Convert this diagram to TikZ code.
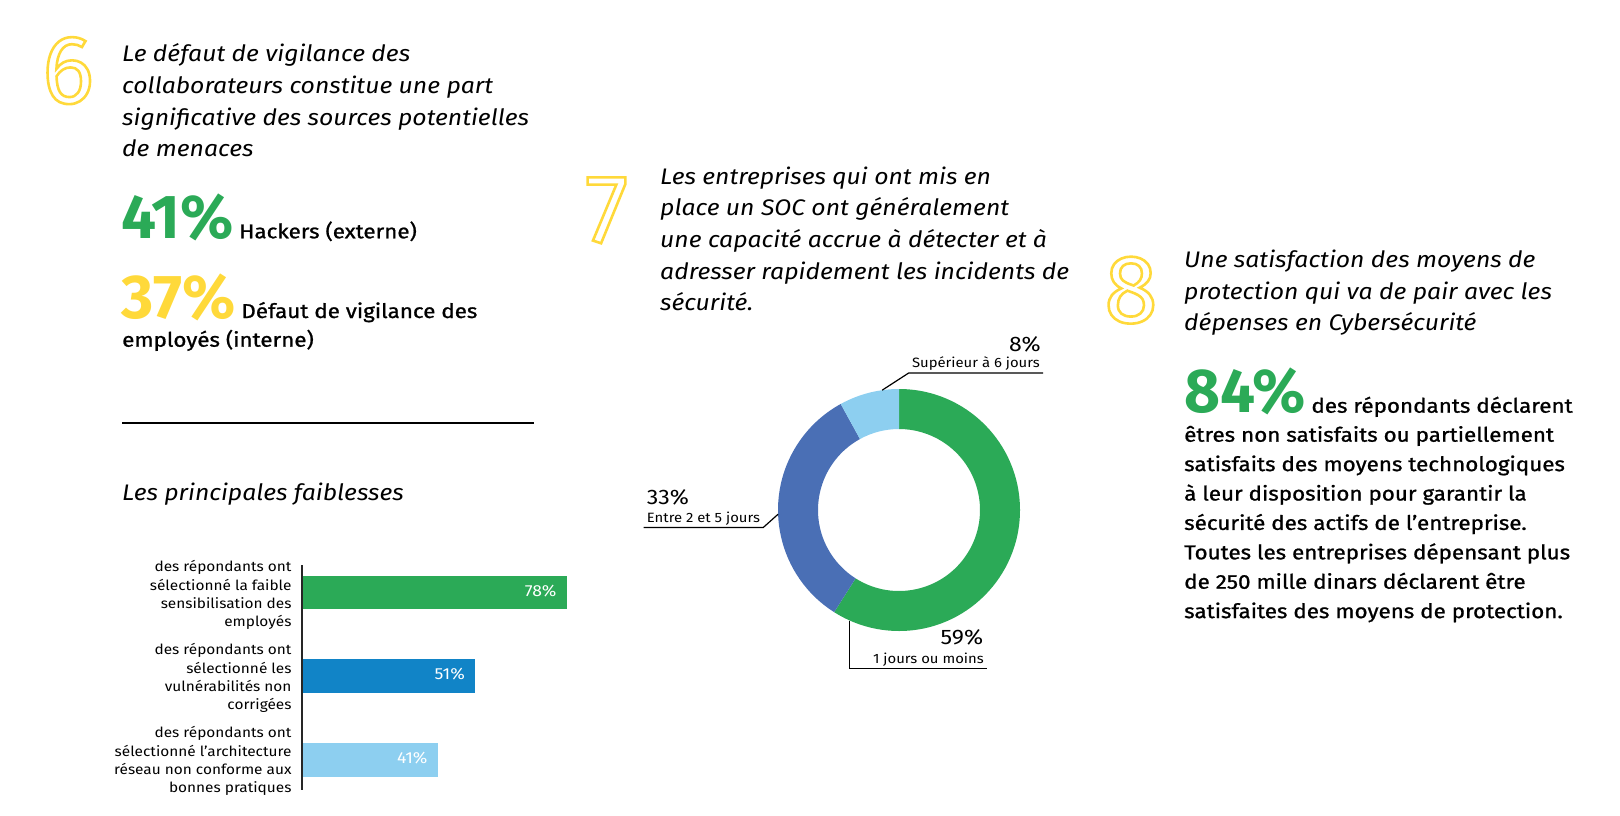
\documentclass[tikz,border=0pt]{standalone}
\usepackage{fontspec}
\setmainfont{Fira Sans}[FakeStretch=1.1]
\newfontfamily\medfont{Fira Sans}[FakeStretch=1.12, FakeBold=1]
\newfontfamily\numfont{Fira Sans}
\usepackage{tikz}
\usetikzlibrary{positioning}
\definecolor{eygreen}{RGB}{43,170,87}
\definecolor{eyyellow}{RGB}{255,217,58}
\definecolor{bblue}{RGB}{17,132,199}
\definecolor{blight}{RGB}{141,207,240}
\definecolor{dblue}{RGB}{74,111,181}
\newcommand\outl[1]{\special{pdf:literal direct 1 Tr 2.6 w}#1\special{pdf:literal direct 0 Tr}}

\begin{document}
\begin{tikzpicture}[x=1pt,y=-1pt,
    head/.style={font=\fontsize{22.5}{31}\selectfont\itshape, inner sep=0, anchor=base west},
    body/.style={font=\fontsize{20}{29}\medfont, inner sep=0, anchor=base west},
    bignum/.style={font=\fontsize{62}{62}\numfont\bfseries, inner sep=0, anchor=base west},
    secnum/.style={font=\fontsize{97}{97}\numfont, text=eyyellow, inner sep=0, anchor=base west},
    barlab/.style={font=\fontsize{14}{18}\selectfont, inner sep=0, anchor=base east},
    barval/.style={font=\fontsize{16}{18}\selectfont, text=white, inner sep=0, anchor=base east},
    pct/.style={font=\fontsize{21}{24}\selectfont, inner sep=0},
    desc/.style={font=\fontsize{13.5}{16}\selectfont, inner xsep=3pt, inner ysep=2pt, text depth=3pt},
    lead/.style={draw=black, line width=1.2pt}]
            \useasboundingbox (0,0) rectangle (1620,816);

            % 6
            \node[secnum] (s6) at (42,103) {\outl{6}};
            \foreach \l [count=\i from 0] in {Le défaut de vigilance des, collaborateurs constitue une part, significative des sources potentielles, de menaces}
                \node[head] (h6-\i) at (122,61.7+31.7*\i) {\l};
            \node[bignum, text=eygreen] (n41) at (121,238.3) {41\%};
            \node[body, xshift=5pt] (hack) at (n41.base east) {Hackers (externe)};
            \node[bignum, text=eyyellow] (n37) at (121,318) {37\%};
            \node[body, xshift=5pt] (vig) at (n37.base east) {Défaut de vigilance des};
            \node[body] (vig2) at (122,346.7) {employés (interne)};
            \draw[line width=2pt] (122,423) -- (534,423);
            \node[head] (faib) at (122,500.7) {Les principales faiblesses};

            \draw[line width=1.8pt, black!85] (301.7,565) -- (301.7,790);
            \foreach \w/\c/\v [count=\i from 0] in {566.7/eygreen/78, 475/bblue/51, 437.7/blight/41}{
                \fill[\c] (302.5,575.7+83.7*\i) rectangle (\w,609.3+83.7*\i);
                \node[barval] (val\i) at (\w-10,596+83.7*\i) {\v\%};
            }
            \foreach \a/\b/\c/\d [count=\i from 0] in {
                {des répondants ont}/{sélectionné la faible}/{sensibilisation des}/{employés},
                {des répondants ont}/{sélectionné les}/{vulnérabilités non}/{corrigées},
                {des répondants ont}/{sélectionné l’architecture}/{réseau non conforme aux}/{bonnes pratiques}}{
                \node[barlab] (lab\i-1) at (291.7,571.7+83*\i) {\a};
                \node[barlab] (lab\i-2) at (291.7,590+83*\i) {\b};
                \node[barlab] (lab\i-3) at (291.7,608.3+83*\i) {\c};
                \node[barlab] (lab\i-4) at (291.7,626.7+83*\i) {\d};
            }

            % 7
            \node[secnum] (s7) at (585,242.3) {\outl{7}};
            \foreach \l [count=\i from 0] in {Les entreprises qui ont mis en, place un SOC ont généralement, une capacité accrue à détecter et à, adresser rapidement les incidents de, sécurité.}
                \node[head] (h7-\i) at (660,184+31.7*\i) {\l};

            \begin{scope}[shift={(899,510)}, yscale=-1]
                \foreach \a/\b/\c in {90/-122.4/eygreen, -122.4/-241.2/dblue, -241.2/-270/blight}
                    \fill[\c] (\a:121) arc[start angle=\a, end angle=\b, radius=121] -- (\b:81) arc[start angle=\b, end angle=\a, radius=81] -- cycle;
                \coordinate (c8) at (98:121);
                \coordinate (c33) at (182:121);
                \coordinate (c59) at (246:121);
            \end{scope}

            \node[pct, anchor=base east] (p8) at (1041,351.7) {8\%};
            \node[desc, anchor=base east] (d8) at (1043,367.7) {Supérieur à 6 jours};
            \draw[lead] (c8) -- (d8.south west) -- (d8.south east);
            \node[pct, anchor=base west] (p33) at (646.7,504.3) {33\%};
            \node[desc, anchor=base west] (d33) at (643.7,522.3) {Entre 2 et 5 jours};
            \draw[lead] (c33) -- (d33.south east) -- (d33.south west);
            \node[pct, anchor=base east] (p59) at (983.3,644) {59\%};
            \node[desc, anchor=base east] (d59) at (987,663) {1 jours ou moins};
            \draw[lead] (c59) -- (c59 |- d59.south) -- (d59.south east);

            % 8
            \node[secnum] (s8) at (1104,322.5) {\outl{8}};
            \foreach \l [count=\i from 0] in {Une satisfaction des moyens de, protection qui va de pair avec les, dépenses en Cybersécurité}
                \node[head] (h8-\i) at (1184,267.3+31.7*\i) {\l};
            \node[bignum, text=eygreen] (n84) at (1184,412.7) {84\%};
            \node[body, xshift=5pt] (rep) at (n84.base east) {des répondants déclarent};
            \foreach \l [count=\i from 0] in {êtres non satisfaits ou partiellement, satisfaits des moyens technologiques, à leur disposition pour garantir la, sécurité des actifs de l’entreprise., Toutes les entreprises dépensant plus, de 250 mille dinars déclarent être, satisfaites des moyens de protection.}
                \node[body] (b8-\i) at (1184,441.7+29.4*\i) {\l};
        \end{tikzpicture}
\end{document}
